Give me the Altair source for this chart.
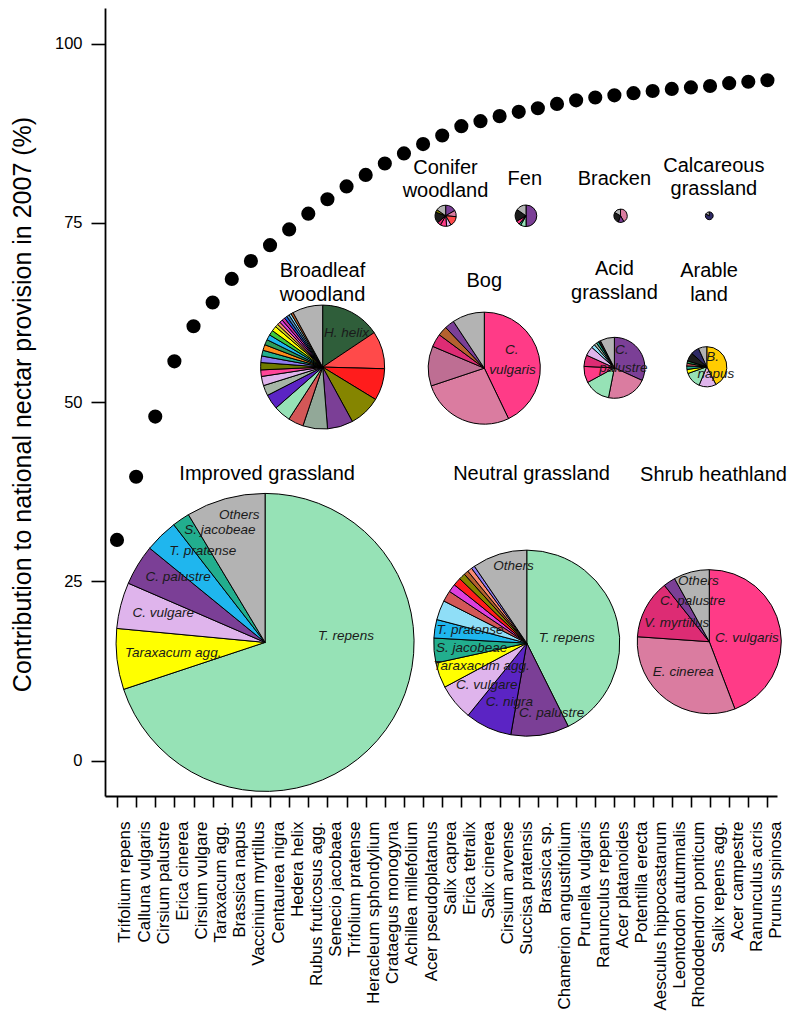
import math
import altair as alt
import pandas as pd

# ---------------- data ----------------
species = [
    "Trifolium repens", "Calluna vulgaris", "Cirsium palustre", "Erica cinerea",
    "Cirsium vulgare", "Taraxacum agg.", "Brassica napus", "Vaccinium myrtillus",
    "Centaurea nigra", "Hedera helix", "Rubus fruticosus agg.", "Senecio jacobaea",
    "Trifolium pratense", "Heracleum sphondylium", "Crataegus monogyna",
    "Achillea millefolium", "Acer pseudoplatanus", "Salix caprea", "Erica tetralix",
    "Salix cinerea", "Cirsium arvense", "Succisa pratensis", "Brassica sp.",
    "Chamerion angustifolium", "Prunella vulgaris", "Ranunculus repens",
    "Acer platanoides", "Potentilla erecta", "Aesculus hippocastanum",
    "Leontodon autumnalis", "Rhododendron ponticum", "Salix repens agg.",
    "Acer campestre", "Ranunculus acris", "Prunus spinosa",
]
cumulative = [30.8, 39.6, 48.0, 55.7, 60.6, 63.9, 67.2, 69.7, 71.9, 74.1,
              76.3, 78.3, 80.1, 81.7, 83.3, 84.7, 86.0, 87.2, 88.5, 89.2,
              89.9, 90.5, 91.0, 91.6, 92.1, 92.5, 92.8, 93.1, 93.4, 93.7,
              93.9, 94.1, 94.5, 94.7, 94.9]

habitats = ["Improved grassland", "Neutral grassland", "Shrub heathland",
            "Broadleaf woodland", "Bog", "Acid grassland", "Arable land",
            "Conifer woodland", "Fen", "Bracken", "Calcareous grassland"]
habitat_share = [49.74, 19.38, 11.62, 8.61, 7.03, 2.08, 0.90, 0.25, 0.26, 0.10, 0.034]

improved_species = ["Trifolium repens", "Taraxacum agg.", "Cirsium vulgare", "Cirsium palustre",
                    "Trifolium pratense", "Senecio jacobaea", "Others"]
improved_values = [69.9, 6.6, 5.0, 4.4, 3.6, 1.9, 8.6]

neutral_species = ["Trifolium repens", "Cirsium palustre", "Centaurea nigra", "Cirsium vulgare",
                   "Taraxacum agg.", "Senecio jacobaea", "Trifolium pratense",
                   "Heracleum sphondylium", "Achillea millefolium", "Cirsium arvense",
                   "Crataegus monogyna", "Acer pseudoplatanus", "Succisa pratensis",
                   "Leontodon autumnalis", "Prunella vulgaris", "Others"]
neutral_values = [42.6, 10.1, 8.1, 6.3, 4.4, 4.3, 3.2, 3.4, 1.9, 1.4, 1.4, 1.1, 0.8, 0.8, 0.6, 9.5]

shrub_species = ["Calluna vulgaris", "Erica cinerea", "Vaccinium myrtillus", "Cirsium palustre", "Others"]
shrub_values = [44.2, 31.9, 13.2, 2.7, 8.0]

broadleaf_species = ["Hedera helix", "Rubus fruticosus agg.", "Crataegus monogyna",
                     "Acer pseudoplatanus", "Cirsium palustre", "Salix caprea",
                     "Achillea millefolium", "Trifolium repens", "Centaurea nigra",
                     "Salix cinerea", "Cirsium vulgare", "Chamerion angustifolium",
                     "Acer platanoides", "Prunella vulgaris", "Senecio jacobaea",
                     "Aesculus hippocastanum", "Acer campestre", "Trifolium pratense",
                     "Ranunculus repens", "Taraxacum agg.", "Ranunculus acris",
                     "Leontodon autumnalis", "Cirsium arvense", "Rhododendron ponticum",
                     "Prunus spinosa", "Salix repens agg.", "Heracleum sphondylium",
                     "Succisa pratensis", "Others"]
broadleaf_values = [15.6, 9.8, 8.3, 8.3, 6.7, 6.4, 4.0, 4.4, 3.9, 2.7, 2.4, 1.7, 1.9, 1.7,
                    1.5, 1.5, 1.4, 1.4, 1.3, 1.3, 0.8, 0.8, 0.8, 0.8, 0.7, 0.7, 0.6, 0.6, 7.9]

bog_species = ["Calluna vulgaris", "Erica cinerea", "Erica tetralix", "Vaccinium myrtillus",
               "Succisa pratensis", "Cirsium palustre", "Others"]
bog_values = [42.9, 27.0, 11.5, 3.8, 2.75, 2.8, 9.3]

acid_species = ["Cirsium palustre", "Erica cinerea", "Trifolium repens", "Calluna vulgaris",
                "Vaccinium myrtillus", "Cirsium vulgare", "Heracleum sphondylium",
                "Salix cinerea", "Senecio jacobaea", "Brassica sp.", "Others"]
acid_values = [31.5, 21.1, 13.8, 8.6, 6.0, 4.9, 1.9, 1.4, 1.25, 1.1, 7.5]

arable_species = ["Brassica napus", "Cirsium vulgare", "Trifolium repens", "Taraxacum agg.",
                  "Senecio jacobaea", "Achillea millefolium", "Acer campestre",
                  "Brassica sp.", "Potentilla erecta", "Others"]
arable_values = [42.5, 13.8, 13.2, 3.3, 2.8, 2.2, 1.9, 6.9, 6.6, 6.8]

conifer_species = ["Cirsium palustre", "Erica cinerea", "Rubus fruticosus agg.", "Cirsium vulgare",
                   "Calluna vulgaris", "Vaccinium myrtillus", "Brassica sp.",
                   "Acer pseudoplatanus", "Others"]
conifer_values = [16.7, 9.7, 15.3, 6.9, 9.7, 5.6, 16.7, 4.2, 15.3]

fen_species = ["Cirsium palustre", "Trifolium repens", "Senecio jacobaea", "Calluna vulgaris",
               "Brassica sp.", "Others"]
fen_values = [50.0, 8.3, 2.8, 5.6, 18.1, 15.3]

bracken_species = ["Erica cinerea", "Cirsium palustre", "Brassica sp.", "Others"]
bracken_values = [41.7, 13.9, 27.8, 16.7]

calcareous_species = ["Potentilla erecta", "Others"]
calcareous_values = [83.3, 16.7]

# pie labels (text)
pie_label_text = ["T. repens", "Taraxacum agg.", "C. vulgare", "C. palustre", "T. pratense",
                  "S. jacobeae", "Others",
                  "T. repens", "C. palustre", "C. nigra", "C. vulgare", "Taraxacum agg.",
                  "S. jacobeae", "T. pratense", "Others",
                  "C. vulgaris", "E. cinerea", "V. myrtillus", "C. palustre", "Others",
                  "H. helix", "C.", "vulgaris", "C.", "palustre", "B.", "napus"]

habitat_label_text = ["Improved grassland", "Neutral grassland", "Shrub heathland",
                      "Broadleaf", "woodland", "Bog", "Acid", "grassland", "Arable", "land",
                      "Conifer", "woodland", "Fen", "Bracken", "Calcareous", "grassland"]

# ---------------- layout (positions in axis units) ----------------
pie_x = [8.74, 22.42, 31.96, 11.75, 20.2, 27.0, 31.83, 18.18, 22.38, 27.32, 31.96]
pie_y = [16.5, 16.4, 16.6, 54.9, 54.75, 54.8, 54.95, 76.0, 76.0, 76.0, 76.0]
pie_label_x = [12.97, 3.94, 3.42, 4.20, 5.48, 6.38, 7.39,
               24.51, 23.72, 21.51, 20.33, 20.06, 19.54, 19.45, 21.72,
               33.92, 30.60, 30.26, 31.09, 31.39,
               13.0, 21.63, 21.68, 27.38, 27.47, 32.14, 32.31]
pie_label_y = [17.43, 14.98, 20.56, 25.58, 29.2, 32.18, 34.27,
               17.15, 6.69, 8.23, 10.56, 13.21, 15.68, 18.23, 27.15,
               17.07, 12.41, 19.25, 22.32, 25.1,
               59.69, 57.28, 54.49, 57.28, 54.73, 56.26, 53.93]
habitat_label_x = [8.85, 22.67, 32.18, 11.74, 11.74, 20.2, 27.0, 27.0, 31.95, 31.95,
                   18.17, 18.17, 22.32, 27.0, 32.2, 32.2]
habitat_label_y = [40.0, 40.0, 39.9, 68.33, 65.0, 66.9, 68.57, 65.27, 68.33, 65.0,
                   82.71, 79.46, 81.08, 81.08, 82.93, 79.68]

palette = {
    "Trifolium repens": "#96E2B6", "Calluna vulgaris": "#FF3B87", "Cirsium palustre": "#7B3F96",
    "Erica cinerea": "#DA7CA0", "Cirsium vulgare": "#DFB4EC", "Taraxacum agg.": "#FFFF00",
    "Brassica napus": "#FFCC00", "Vaccinium myrtillus": "#DD2C74", "Centaurea nigra": "#5B24C4",
    "Hedera helix": "#2F5E3A", "Rubus fruticosus agg.": "#FF4A4A", "Senecio jacobaea": "#22AE8E",
    "Trifolium pratense": "#1FB6EE", "Heracleum sphondylium": "#8FDEF7",
    "Crataegus monogyna": "#FF1C1C", "Achillea millefolium": "#D35757",
    "Acer pseudoplatanus": "#858500", "Salix caprea": "#92A898", "Erica tetralix": "#BE6E93",
    "Salix cinerea": "#A6B6A6", "Cirsium arvense": "#DD3FDD", "Succisa pratensis": "#B5612F",
    "Brassica sp.": "#1C1C1C", "Chamerion angustifolium": "#FF4499",
    "Prunella vulgaris": "#8E7CF0", "Ranunculus repens": "#3CC83C",
    "Acer platanoides": "#6E7B00", "Potentilla erecta": "#2E2A66",
    "Aesculus hippocastanum": "#FF8C1A", "Leontodon autumnalis": "#FA8A72",
    "Rhododendron ponticum": "#CC2FA0", "Salix repens agg.": "#4A86B8",
    "Acer campestre": "#2E9B5A", "Ranunculus acris": "#D8D820", "Prunus spinosa": "#1E5AE0",
    "Others": "#B3B3B3",
}

FONT = "Liberation Sans"

# ---------------- tables ----------------
points = pd.DataFrame({"idx": list(range(1, len(species) + 1)),
                       "species": species, "value": cumulative})

slice_sets = [
    (improved_species, improved_values), (neutral_species, neutral_values),
    (shrub_species, shrub_values), (broadleaf_species, broadleaf_values),
    (bog_species, bog_values), (acid_species, acid_values),
    (arable_species, arable_values), (conifer_species, conifer_values),
    (fen_species, fen_values), (bracken_species, bracken_values),
    (calcareous_species, calcareous_values),
]
rows = []
for h, (sp, vals), cx, cy, sh in zip(habitats, slice_sets, pie_x, pie_y, habitat_share):
    total = float(sum(vals))
    cum = 0.0
    for order, (s, v) in enumerate(zip(sp, vals)):
        rows.append({"habitat": h, "species": s, "order": order,
                     "start": cum / total, "end": (cum + v) / total,
                     "cx": cx, "cy": cy, "share": sh})
        cum += v
pies = pd.DataFrame(rows)

pie_labels = pd.DataFrame({"text": pie_label_text, "x": pie_label_x, "y": pie_label_y})
hab_labels = pd.DataFrame({"text": habitat_label_text, "x": habitat_label_x, "y": habitat_label_y})

# ---------------- scales & axes (shared by every layer) ----------------
label_js = "[" + ",".join("'" + s + "'" for s in species) + "]"


def xenc(field):
    return alt.X(field, type="quantitative",
                 scale=alt.Scale(domain=[0.373, 35.5], nice=False, zero=False),
                 axis=alt.Axis(values=list(range(1, len(species) + 1)),
                               labelExpr=label_js + "[datum.value - 1]",
                               title=None, grid=False, labelAngle=270, labelAlign="right",
                               labelBaseline="top", labelPadding=14, labelFontSize=17,
                               labelFont=FONT, labelColor="black", labelOverlap=False,
                               labelLimit=400, labelFlush=False, tickSize=11,
                               tickColor="black", tickWidth=1.6, domainColor="black",
                               domainWidth=1.8))


def yenc(field):
    return alt.Y(field, type="quantitative",
                 scale=alt.Scale(domain=[-4.92, 104.98], nice=False, zero=False),
                 axis=alt.Axis(values=[0, 25, 50, 75, 100], grid=False,
                               title="Contribution to national nectar provision in 2007 (%)",
                               titleFontSize=25, titleFont=FONT, titleFontWeight="normal",
                               titleColor="black", titleAngle=270, titleX=-83, titleY=396,
                               titleAlign="center", titleBaseline="middle",
                               labelFontSize=16.5, labelFont=FONT, labelColor="black",
                               labelPadding=9, tickSize=14, tickColor="black",
                               tickWidth=1.6, domainColor="black", domainWidth=1.8))


color_scale = alt.Scale(domain=list(palette.keys()), range=list(palette.values()))

pts = alt.Chart(points).mark_circle(size=200, color="black", opacity=1).encode(
    x=xenc("idx"), y=yenc("value"),
)

arcs = alt.Chart(pies).mark_arc(stroke="black", strokeWidth=1).encode(
    x=xenc("cx"), y=yenc("cy"),
    theta=alt.Theta("start:Q", stack=False,
                    scale=alt.Scale(domain=[0, 1], range=[0, 2 * math.pi])),
    theta2=alt.Theta2("end:Q"),
    radius=alt.Radius("share:Q", scale=alt.Scale(type="sqrt", zero=True,
                                                  domain=[0, max(habitat_share)],
                                                  range=[0, 149])),
    color=alt.Color("species:N", scale=color_scale, legend=None),
    order=alt.Order("order:Q"),
)

plabels = alt.Chart(pie_labels).mark_text(font=FONT, fontSize=13.5, fontStyle="italic",
                                          color="#1a1a1a").encode(
    x=xenc("x"), y=yenc("y"), text="text:N")

hlabels = alt.Chart(hab_labels).mark_text(font=FONT, fontSize=20, color="black").encode(
    x=xenc("x"), y=yenc("y"), text="text:N")

chart = alt.layer(pts, arcs, plabels, hlabels).properties(
    width=672, height=788,
    padding={"left": 97, "top": 0, "right": 15, "bottom": 215},
    autosize=alt.AutoSizeParams(type="none"),
).configure_view(strokeWidth=0)

chart.save("out.html", embed_options={"renderer": "svg", "actions": False})
